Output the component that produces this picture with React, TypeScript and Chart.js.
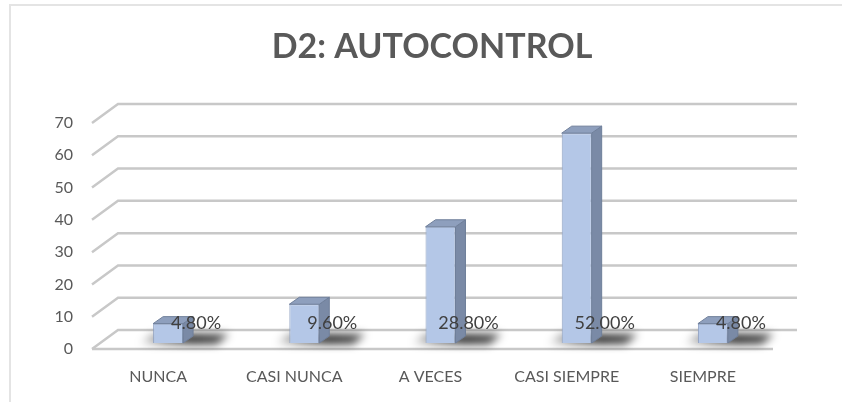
import React, { useEffect, useRef } from "react";
import { Chart, registerables } from "chart.js";

Chart.register(...registerables);

const chartTitle = "D2: AUTOCONTROL";
const categories = ["NUNCA", "CASI NUNCA", "A VECES", "CASI SIEMPRE", "SIEMPRE"];
const counts = [6, 12, 36, 65, 6];
const percentLabels = ["4.80%", "9.60%", "28.80%", "52.00%", "4.80%"];
const yTicks = [0, 10, 20, 30, 40, 50, 60, 70];

const FONT = "Lato, 'Open Sans', 'DejaVu Sans', sans-serif";
const DEPTH_X = 10;
const DEPTH_Y = -7;
const FRONT_DX = -8;
const FRONT_DY = 6;
const BACK_DX = 18;
const BACK_DY = -13;

const threeD = {
  id: "threeD",
  beforeDatasetsDraw(chart: any) {
    const ctx = chart.ctx;
    const { left, right } = chart.chartArea;
    const ys = chart.scales.y;
    const xs = chart.scales.x;
    ctx.save();
    // outer frame
    ctx.strokeStyle = "#e4e4e4";
    ctx.lineWidth = 2;
    ctx.beginPath();
    ctx.moveTo(10, 402);
    ctx.lineTo(10, 5);
    ctx.lineTo(842, 5);
    ctx.stroke();

    // title
    ctx.fillStyle = "#595959";
    ctx.font = `bold 34px ${FONT}`;
    ctx.textAlign = "center";
    ctx.textBaseline = "middle";
    ctx.fillText(chartTitle, 432, 47);

    // gridlines
    ctx.strokeStyle = "#c8c8c8";
    ctx.lineWidth = 2.5;
    yTicks.forEach((v) => {
      const py = ys.getPixelForValue(v);
      ctx.beginPath();
      ctx.moveTo(left + FRONT_DX, py + FRONT_DY);
      ctx.lineTo(left + BACK_DX, py + BACK_DY);
      ctx.lineTo(right + BACK_DX - 2, py + BACK_DY);
      ctx.stroke();
      if (v === 0) {
        ctx.beginPath();
        ctx.moveTo(left + FRONT_DX, py + FRONT_DY);
        ctx.lineTo(right + FRONT_DX, py + FRONT_DY);
        ctx.stroke();
      }
    });

    // y tick labels
    ctx.fillStyle = "#595959";
    ctx.font = `16px ${FONT}`;
    ctx.textAlign = "right";
    ctx.textBaseline = "middle";
    yTicks.forEach((v) => {
      const py = ys.getPixelForValue(v);
      ctx.fillText(String(v), 73, py + FRONT_DY);
    });

    // category labels
    ctx.textAlign = "center";
    categories.forEach((c, i) => {
      const px = xs.getPixelForValue(i);
      ctx.fillText(c, px - 10, 377);
    });

    // shadows
    const meta = chart.getDatasetMeta(0);
    meta.data.forEach((el: any) => {
      const { x, base, width } = el.getProps(["x", "base", "width"], true);
      const l = x - width / 2;
      const r = x + width / 2;
      ctx.save();
      ctx.filter = "blur(4px)";
      const g = ctx.createLinearGradient(l - 14, 0, r + 44, 0);
      g.addColorStop(0, "rgba(0,0,0,0.05)");
      g.addColorStop(0.3, "rgba(0,0,0,0.55)");
      g.addColorStop(0.6, "rgba(0,0,0,0.85)");
      g.addColorStop(1, "rgba(0,0,0,0.7)");
      ctx.fillStyle = g;
      ctx.beginPath();
      ctx.moveTo(l - 14, base + 1);
      ctx.lineTo(r + 34, base + 1);
      ctx.lineTo(r + 46, base - 9);
      ctx.lineTo(l - 2, base - 9);
      ctx.closePath();
      ctx.fill();
      ctx.restore();
    });
    ctx.restore();
  },
  afterDatasetsDraw(chart: any) {
    const ctx = chart.ctx;
    const ys = chart.scales.y;
    const meta = chart.getDatasetMeta(0);
    ctx.save();
    meta.data.forEach((el: any, i: number) => {
      const { x, y, base, width } = el.getProps(["x", "y", "base", "width"], true);
      const l = x - width / 2;
      const r = x + width / 2;
      // side face
      ctx.fillStyle = "#7a8aa6";
      ctx.strokeStyle = "#6f7f9a";
      ctx.lineWidth = 1;
      ctx.beginPath();
      ctx.moveTo(r, y);
      ctx.lineTo(r + DEPTH_X, y + DEPTH_Y);
      ctx.lineTo(r + DEPTH_X, base + DEPTH_Y);
      ctx.lineTo(r, base);
      ctx.closePath();
      ctx.fill();
      ctx.stroke();
      // top face
      ctx.fillStyle = "#8e9fbd";
      ctx.beginPath();
      ctx.moveTo(l, y);
      ctx.lineTo(l + DEPTH_X, y + DEPTH_Y);
      ctx.lineTo(r + DEPTH_X, y + DEPTH_Y);
      ctx.lineTo(r, y);
      ctx.closePath();
      ctx.fill();
      ctx.stroke();
      // data label
      ctx.fillStyle = "#404040";
      ctx.font = `18px ${FONT}`;
      ctx.textAlign = "center";
      ctx.textBaseline = "middle";
      ctx.fillText(percentLabels[i], x + 28, ys.getPixelForValue(0) - 20);
    });
    ctx.restore();
  },
};

export default function App() {
  const ref = useRef<HTMLCanvasElement | null>(null);
  useEffect(() => {
    if (!ref.current) return;
    const chart = new Chart(ref.current, {
      type: "bar",
      data: {
        labels: categories,
        datasets: [
          {
            data: counts,
            backgroundColor: "#b4c7e7",
            borderColor: "#8fa1c2",
            borderWidth: 1,
            barPercentage: 0.22,
            categoryPercentage: 1,
          },
        ],
      },
      options: {
        responsive: false,
        animation: false,
        layout: { padding: { left: 100, right: 61, top: 117, bottom: 59 } },
        scales: {
          x: { display: false, grid: { display: false } },
          y: { display: false, min: 0, max: 70, grid: { display: false } },
        },
        plugins: {
          legend: { display: false },
          tooltip: { enabled: false },
          title: { display: false },
        },
      },
      plugins: [threeD],
    });
    return () => chart.destroy();
  }, []);
  return (
    <div style={{ position: "absolute", left: 0, top: 0, width: 842, height: 402, background: "#fff" }}>
      <canvas ref={ref} width={842} height={402} style={{ display: "block" }} />
    </div>
  );
}
